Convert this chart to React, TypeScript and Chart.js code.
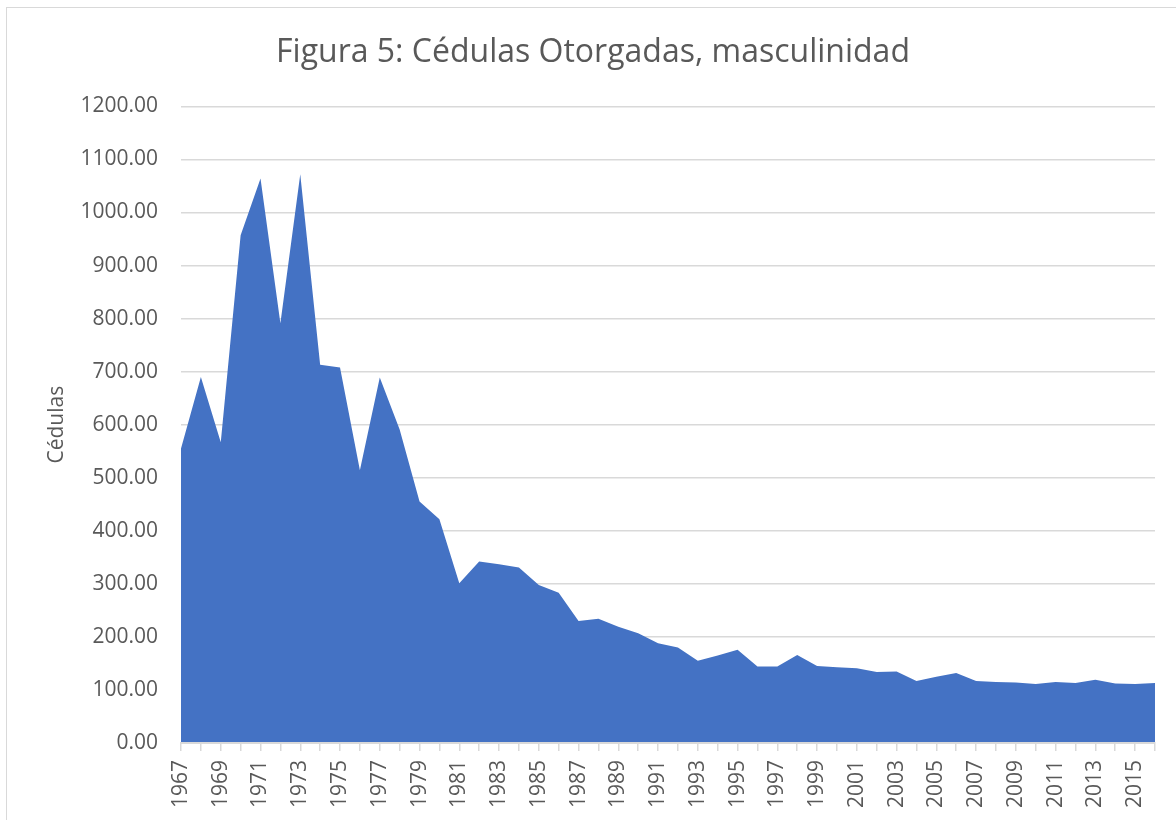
import React, { useEffect, useRef } from "react";
import { Chart, registerables } from "chart.js";

Chart.register(...registerables);

const years: string[] = [
  "1967", "1968", "1969", "1970", "1971", "1972", "1973", "1974", "1975", "1976",
  "1977", "1978", "1979", "1980", "1981", "1982", "1983", "1984", "1985", "1986",
  "1987", "1988", "1989", "1990", "1991", "1992", "1993", "1994", "1995", "1996",
  "1997", "1998", "1999", "2000", "2001", "2002", "2003", "2004", "2005", "2006",
  "2007", "2008", "2009", "2010", "2011", "2012", "2013", "2014", "2015", "2016",
];

const cedulas: number[] = [
  555, 690, 567, 957, 1064, 791, 1072, 713, 708, 514,
  689, 591, 455, 422, 301, 342, 337, 331, 298, 283,
  230, 234, 219, 207, 188, 180, 155, 165, 176, 144,
  144, 166, 145, 143, 141, 134, 135, 117, 125, 132,
  117, 115, 114, 111, 115, 113, 119, 112, 111, 113,
];

const titleText = "Figura 5: Cédulas Otorgadas, masculinidad";
const yAxisTitle = "Cédulas";
const yMin = 0;
const yMax = 1200;
const yStep = 100;

const FONT = "'Open Sans', sans-serif";
const TEXT = "#595959";
const GRID = "#d9d9d9";

export default function App() {
  const ref = useRef<HTMLCanvasElement | null>(null);

  useEffect(() => {
    if (!ref.current) return;
    const chart = new Chart(ref.current, {
      type: "line",
      data: {
        labels: years,
        datasets: [
          {
            label: "Cédulas",
            data: cedulas,
            fill: "origin",
            backgroundColor: "#4472C4",
            borderColor: "#4472C4",
            borderWidth: 0,
            pointRadius: 0,
            pointHoverRadius: 0,
            tension: 0,
          },
        ],
      },
      options: {
        responsive: false,
        animation: false,
        layout: { padding: { left: 24, right: 24, top: 0, bottom: 0 } },
        plugins: {
          legend: { display: false },
          tooltip: { enabled: false },
          title: {
            display: true,
            text: titleText,
            color: TEXT,
            font: { family: FONT, size: 32, weight: "normal" },
            padding: { top: 26, bottom: 34 },
          },
        },
        scales: {
          x: {
            type: "category",
            offset: false,
            grid: {
              display: true,
              drawOnChartArea: false,
              drawTicks: true,
              tickLength: 8,
              color: GRID,
              lineWidth: 1.5,
            },
            border: { display: true, color: GRID, width: 2, z: 1 },
            ticks: {
              autoSkip: false,
              maxRotation: 90,
              minRotation: 90,
              padding: 9,
              color: TEXT,
              font: { family: FONT, size: 21 },
              callback: (_v: any, i: number) => (i % 2 === 0 ? years[i] : ""),
            },
            afterFit: (scale: any) => {
              scale.height = 95;
              scale.paddingLeft = 0;
              scale.paddingRight = 0;
            },
          },
          y: {
            min: yMin,
            max: yMax,
            grid: {
              display: true,
              drawTicks: false,
              color: GRID,
              lineWidth: 1.5,
            },
            border: { display: false },
            ticks: {
              stepSize: yStep,
              padding: 23,
              color: TEXT,
              font: { family: FONT, size: 21 },
              callback: (v: any) => Number(v).toFixed(2),
            },
            title: {
              display: true,
              text: yAxisTitle,
              color: TEXT,
              font: { family: FONT, size: 21, weight: "normal" },
              padding: { top: 13, bottom: 0 },
            },
            afterFit: (scale: any) => {
              scale.width = 150;
            },
          },
        },
      },
    });
    return () => chart.destroy();
  }, []);

  return (
    <div
      style={{
        position: "fixed",
        left: 6,
        top: 7,
        width: 1172,
        height: 830,
        border: "1px solid #d9d9d9",
        background: "#ffffff",
      }}
    >
      <canvas ref={ref} width={1172} height={830} style={{ display: "block", width: 1172, height: 830 }} />
    </div>
  );
}
